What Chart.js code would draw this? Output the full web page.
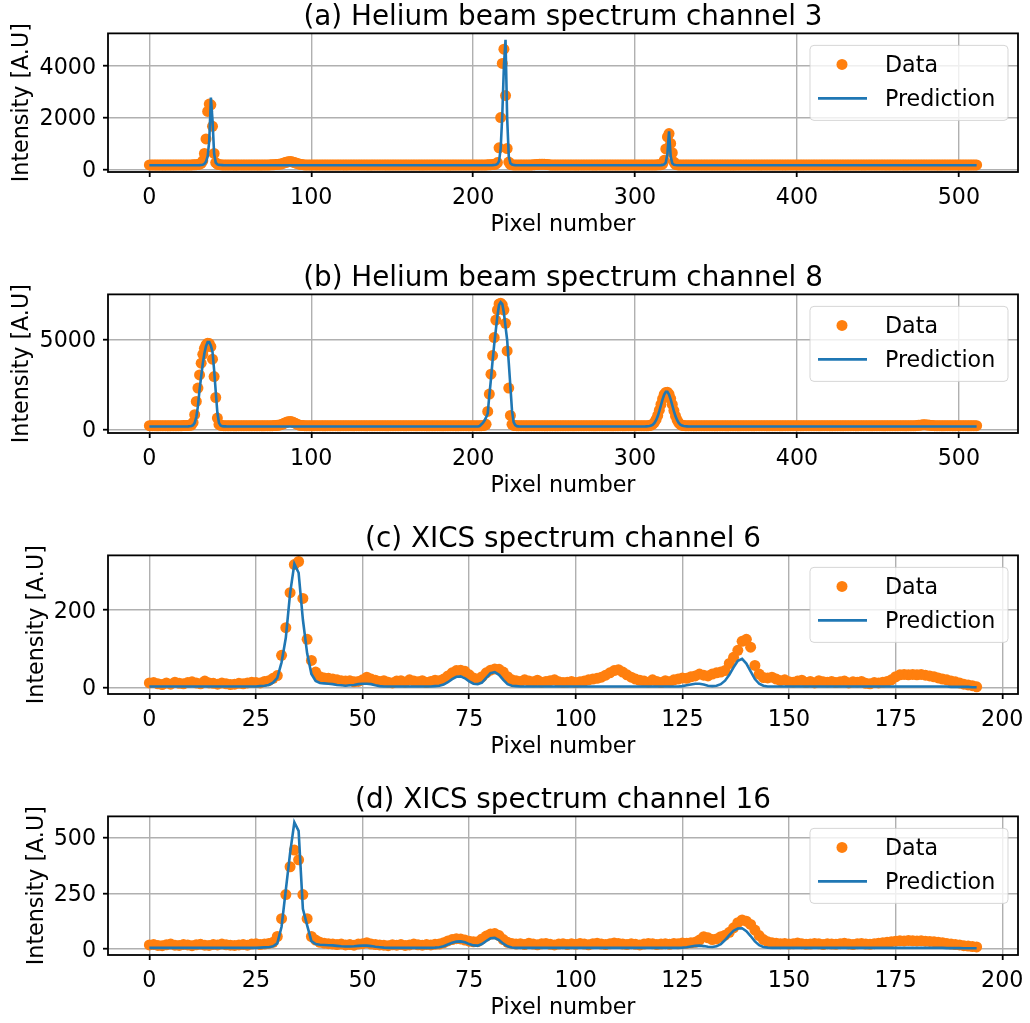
<!DOCTYPE html>
<html>
<head>
<meta charset="utf-8">
<script src="https://cdn.jsdelivr.net/npm/chart.js@4.4.1/dist/chart.umd.min.js"></script>
<style>
html, body { margin: 0; background: #fff; overflow: hidden; }
#wrap { position: relative; width: 1030px; height: 1023px; overflow: hidden; }
#wrap canvas { position: absolute; left: 0; }
</style>
</head>
<body>
<div id="wrap">
  <canvas id="pa" width="1030" height="250" style="top:0px"></canvas>
  <canvas id="pb" width="1030" height="250" style="top:261px"></canvas>
  <canvas id="pc" width="1030" height="250" style="top:522px"></canvas>
  <canvas id="pd" width="1030" height="250" style="top:783px"></canvas>
</div>
<script>
'use strict';
// ============================================================================
// 4 spectres (données vs prédiction) — helium beam ch.3/8, XICS ch.6/16.
// Valeurs relevées à l'oeil sur la figure de référence.
// ============================================================================

// --- (a) Helium beam, canal 3 : 512 pixels
const DATA_A = [
  172,170,168,171,169,167,170,172,168,166,169,171,170,168,167,170,172,169,168,170,171,169,167,168,170,172,171,173,176,180,186,198,
  230,330,613,1176,2234,2520,2490,1659,613,260,200,182,176,172,170,169,171,168,170,172,169,167,170,171,168,169,172,170,168,169,171,170,
  169,170,172,168,167,170,171,169,170,172,171,173,175,178,182,188,196,206,220,240,262,282,296,300,292,276,254,232,212,196,186,178,
  170,169,171,168,170,172,171,169,167,170,172,170,169,168,171,170,169,172,170,168,169,171,170,172,169,167,170,171,169,170,172,170,
  169,168,170,171,169,170,172,168,167,170,171,169,168,170,172,170,169,171,168,167,170,171,169,170,172,171,168,169,170,171,169,170,
  170,169,171,168,170,172,171,169,167,170,172,170,169,168,171,170,169,172,170,168,169,171,170,172,169,167,170,171,169,170,172,170,
  172,170,168,169,171,170,168,170,172,169,167,170,171,169,170,172,171,173,175,178,182,190,200,260,830,2000,4090,4640,2850,805,280,190,
  176,172,170,169,171,170,168,170,172,171,169,170,172,174,178,184,190,196,200,198,194,188,182,176,172,170,169,171,170,168,170,172,
  169,168,170,171,169,170,172,168,167,170,171,169,168,170,172,170,169,171,168,167,170,171,169,170,172,171,168,169,170,171,169,170,
  169,171,170,168,170,172,169,170,171,169,168,170,172,171,169,170,168,169,171,170,172,170,169,168,170,171,173,176,180,200,350,790,
  1250,1380,1000,640,280,190,176,172,170,169,171,170,168,170,172,169,170,171,169,168,170,172,171,169,170,168,169,171,170,172,170,169,
  170,169,171,168,170,172,171,169,167,170,172,170,169,168,171,170,169,172,170,168,169,171,170,172,169,167,170,171,169,170,172,170,
  169,168,170,171,169,170,172,168,167,170,171,169,168,170,172,170,169,171,168,167,170,171,169,170,172,171,168,169,170,171,169,170,
  170,169,171,168,170,172,171,169,167,170,172,170,169,168,171,170,169,172,170,168,169,171,170,172,169,167,170,171,169,170,172,170,
  169,168,170,171,169,170,172,168,167,170,171,169,168,170,172,170,169,171,168,167,170,171,169,170,172,171,168,169,170,171,169,170,
  170,169,171,168,170,172,171,169,167,170,172,170,169,168,171,170,169,172,170,168,169,171,170,172,169,167,170,171,169,170,172,170
];
const PRED_A = [
  158,158,158,158,158,158,158,158,158,158,158,158,158,158,158,158,158,158,158,158,158,158,158,158,158,158,158,158,158,158,160,163,
  168,178,205,300,500,1100,2770,1900,600,260,190,172,165,162,160,158,158,158,158,158,158,158,158,158,158,158,158,158,158,158,158,158,
  158,158,158,158,158,158,158,158,158,158,158,158,158,158,158,158,158,158,158,158,158,158,158,158,158,158,158,158,158,158,158,158,
  158,158,158,158,158,158,158,158,158,158,158,158,158,158,158,158,158,158,158,158,158,158,158,158,158,158,158,158,158,158,158,158,
  158,158,158,158,158,158,158,158,158,158,158,158,158,158,158,158,158,158,158,158,158,158,158,158,158,158,158,158,158,158,158,158,
  158,158,158,158,158,158,158,158,158,158,158,158,158,158,158,158,158,158,158,158,158,158,158,158,158,158,158,158,158,158,158,158,
  158,158,158,158,158,158,158,158,158,158,158,158,158,158,158,158,158,158,158,160,163,168,178,205,320,800,2100,4000,5000,2000,500,230,
  182,168,162,160,158,158,158,158,158,158,158,158,158,158,158,158,158,158,158,158,158,158,158,158,158,158,158,158,158,158,158,158,
  158,158,158,158,158,158,158,158,158,158,158,158,158,158,158,158,158,158,158,158,158,158,158,158,158,158,158,158,158,158,158,158,
  158,158,158,158,158,158,158,158,158,158,158,158,158,158,158,158,158,158,158,158,158,158,158,158,158,158,158,160,164,172,190,260,
  600,1470,500,230,178,165,160,158,158,158,158,158,158,158,158,158,158,158,158,158,158,158,158,158,158,158,158,158,158,158,158,158,
  158,158,158,158,158,158,158,158,158,158,158,158,158,158,158,158,158,158,158,158,158,158,158,158,158,158,158,158,158,158,158,158,
  158,158,158,158,158,158,158,158,158,158,158,158,158,158,158,158,158,158,158,158,158,158,158,158,158,158,158,158,158,158,158,158,
  158,158,158,158,158,158,158,158,158,158,158,158,158,158,158,158,158,158,158,158,158,158,158,158,158,158,158,158,158,158,158,158,
  158,158,158,158,158,158,158,158,158,158,158,158,158,158,158,158,158,158,158,158,158,158,158,158,158,158,158,158,158,158,158,158,
  158,158,158,158,158,158,158,158,158,158,158,158,158,158,158,158,158,158,158,158,158,158,158,158,158,158,158,158,158,158,158,158
];

// --- (b) Helium beam, canal 8 : 512 pixels
const DATA_B = [
  222,224,220,223,221,219,222,224,221,220,223,222,219,221,224,222,220,221,223,222,224,226,228,232,236,242,260,400,830,1560,2300,3030,
  3680,4170,4500,4690,4780,4760,4590,3900,2940,1780,645,290,240,228,224,221,223,220,222,224,221,219,222,223,220,221,224,222,220,223,221,222,
  220,223,221,222,224,220,219,222,223,221,220,222,225,228,232,240,252,270,300,340,385,420,445,455,440,405,360,310,270,245,232,226,
  222,224,220,223,221,219,222,224,221,220,223,222,219,221,224,222,220,221,223,222,220,219,222,224,221,223,220,222,224,221,219,222,
  221,223,220,222,224,221,219,222,223,220,221,224,222,220,223,221,222,224,220,219,222,223,221,220,222,224,221,223,220,222,219,221,
  222,224,220,223,221,219,222,224,221,220,223,222,219,221,224,222,220,221,223,222,220,219,222,224,221,223,220,222,224,221,219,222,
  222,220,223,221,224,222,219,221,223,220,222,224,221,223,226,240,300,1010,1970,3070,4100,5090,6060,6620,6950,6990,6900,6615,5880,4355,2300,790,
  300,238,226,222,220,223,221,224,222,219,221,223,220,222,224,221,223,220,222,224,221,219,222,223,220,221,224,222,220,223,221,222,
  221,223,220,222,224,221,219,222,223,220,221,224,222,220,223,221,222,224,220,219,222,223,221,220,222,224,221,223,220,222,219,221,
  222,224,220,223,221,219,222,224,221,220,223,222,219,221,224,222,220,221,223,222,224,230,260,310,410,570,790,1080,1400,1700,1950,2060,
  2070,1960,1720,1400,1060,760,530,380,290,245,228,223,221,220,222,224,221,219,222,223,220,221,224,222,220,223,221,222,224,220,219,222,
  222,224,220,223,221,219,222,224,221,220,223,222,219,221,224,222,220,221,223,222,220,219,222,224,221,223,220,222,224,221,219,222,
  221,223,220,222,224,221,219,222,223,220,221,224,222,220,223,221,222,224,220,219,222,223,221,220,222,224,221,223,220,222,219,221,
  222,224,220,223,221,219,222,224,221,220,223,222,219,221,224,222,220,221,223,222,220,219,222,224,221,223,220,222,224,221,219,222,
  221,223,220,222,224,221,219,222,223,220,221,224,222,220,223,221,222,224,220,219,222,223,221,220,222,224,230,240,252,262,268,270,
  266,258,246,234,226,222,224,220,223,221,219,222,224,221,220,223,222,219,221,224,222,220,221,223,222,220,219,222,224,221,223,220
];
const PRED_B = [
  180,180,180,180,180,180,180,180,180,180,180,180,180,180,180,180,180,180,180,180,180,180,180,180,183,188,205,250,380,700,1300,2200,
  2940,3650,4230,4620,4840,4840,4650,4300,3300,2100,950,380,230,195,185,182,180,180,180,180,180,180,180,180,180,180,180,180,180,180,180,180,
  180,180,180,180,180,180,180,180,180,180,180,180,180,180,180,180,180,180,180,180,180,180,180,180,180,180,180,180,180,180,180,180,
  180,180,180,180,180,180,180,180,180,180,180,180,180,180,180,180,180,180,180,180,180,180,180,180,180,180,180,180,180,180,180,180,
  180,180,180,180,180,180,180,180,180,180,180,180,180,180,180,180,180,180,180,180,180,180,180,180,180,180,180,180,180,180,180,180,
  180,180,180,180,180,180,180,180,180,180,180,180,180,180,180,180,180,180,180,180,180,180,180,180,180,180,180,180,180,180,180,180,
  180,180,180,180,180,180,180,180,180,180,180,180,200,290,380,500,680,900,1900,2800,3800,4700,5500,6300,6900,7050,6950,6450,5700,4960,3700,2400,
  1050,420,250,195,183,180,180,180,180,180,180,180,180,180,180,180,180,180,180,180,180,180,180,180,180,180,180,180,180,180,180,180,
  180,180,180,180,180,180,180,180,180,180,180,180,180,180,180,180,180,180,180,180,180,180,180,180,180,180,180,180,180,180,180,180,
  180,180,180,180,180,180,180,180,180,180,180,180,180,180,180,180,180,180,180,185,190,201,228,281,373,524,741,1025,1351,1676,1940,2090,
  2090,1940,1676,1351,1025,741,524,373,281,228,201,190,185,180,180,180,180,180,180,180,180,180,180,180,180,180,180,180,180,180,180,180,
  180,180,180,180,180,180,180,180,180,180,180,180,180,180,180,180,180,180,180,180,180,180,180,180,180,180,180,180,180,180,180,180,
  180,180,180,180,180,180,180,180,180,180,180,180,180,180,180,180,180,180,180,180,180,180,180,180,180,180,180,180,180,180,180,180,
  180,180,180,180,180,180,180,180,180,180,180,180,180,180,180,180,180,180,180,180,180,180,180,180,180,180,180,180,180,180,180,180,
  180,180,180,180,180,180,180,180,180,180,180,180,180,180,180,180,180,180,180,180,180,180,180,180,180,180,180,180,180,180,180,180,
  180,180,180,180,180,180,180,180,180,180,180,180,180,180,180,180,180,180,180,180,180,180,180,180,180,180,180,180,180,180,180,180
];

// --- (c) XICS, canal 6 : 195 pixels
const DATA_C = [
  12,13,10,8,12,9,14,11,10,13,15,12,10,17,12,11,9,12,10,8,
  9,11,10,12,14,13,12,16,18,24,31,83,154,244,316,324,229,124,70,40,
  28,25,24,22,20,18,17,18,15,16,20,27,22,19,16,18,14,12,17,18,
  14,20,17,15,18,13,16,19,18,22,30,38,44,45,42,33,25,22,28,38,
  45,48,47,40,28,20,18,16,20,17,15,19,14,16,18,20,15,13,14,16,
  13,15,17,20,22,24,27,32,38,44,46,40,33,27,22,19,17,14,20,16,
  13,18,15,20,22,25,24,28,30,35,32,30,35,38,40,44,62,78,96,119,
  124,104,57,35,26,25,27,22,18,20,15,14,17,19,13,16,12,18,15,14,
  16,13,15,17,12,15,14,16,11,10,13,12,14,16,20,28,33,34,33,34,
  33,34,32,30,28,25,22,20,17,15,12,9,7,5,2
];
const PRED_C = [
  3,3,3,3,3,3,3,3,3,3,3,3,3,3,3,3,3,3,3,3,
  3,3,3,3,3,3,4,5,7,13,25,65,128,242,318,295,175,88,35,17,
  12,11,10,9,7,6,5,6,7,9,10,10,9,6,4,3,3,3,3,3,
  3,3,3,3,3,3,3,4,5,8,14,22,28,29,24,16,10,9,13,25,
  37,40,33,20,9,5,4,3,3,3,3,3,3,3,3,3,3,3,3,3,
  3,3,3,3,3,3,3,3,3,3,3,3,3,3,3,3,3,3,3,3,
  3,3,3,3,3,4,6,8,10,10,8,5,4,5,9,18,33,52,69,74,
  62,42,22,10,5,3,3,3,3,3,3,3,3,3,3,3,3,3,3,3,
  3,3,3,3,3,3,3,3,3,3,3,3,3,3,3,3,3,3,3,3,
  3,3,3,3,3,3,3,3,2,2,2,2,2,1,1
];

// --- (d) XICS, canal 16 : 195 pixels
const DATA_D = [
  18,20,16,15,19,22,17,16,20,18,15,19,21,17,16,20,18,22,19,17,
  16,18,20,17,22,24,20,22,25,30,56,136,244,369,444,400,244,136,56,40,
  30,26,24,22,20,22,18,20,17,22,24,28,22,20,18,17,15,19,17,20,
  16,18,22,19,17,20,18,21,22,28,36,42,46,45,40,35,32,33,45,58,
  67,69,60,42,30,25,22,24,20,26,22,19,23,25,21,18,22,24,20,23,
  21,25,22,19,24,26,22,20,23,27,25,22,20,24,21,18,22,25,23,20,
  22,24,21,25,23,27,26,28,30,40,55,50,42,45,55,62,75,95,118,130,
  125,110,85,60,42,32,28,26,24,25,22,23,27,24,21,22,25,23,20,24,
  22,21,24,26,22,20,23,25,22,21,24,26,28,30,33,35,37,36,38,37,
  36,37,35,34,33,30,28,25,22,20,18,15,13,11,9
];
const PRED_D = [
  5,5,5,5,5,5,5,5,5,5,5,5,5,5,5,5,5,5,5,5,
  5,5,5,5,5,5,6,7,8,12,25,100,265,430,568,530,180,106,35,22,
  19,18,17,16,14,12,11,11,12,14,15,15,13,10,8,6,5,5,5,5,
  5,5,5,5,5,5,5,6,8,12,20,28,33,34,30,22,16,15,22,36,
  48,50,40,24,12,7,5,5,5,5,5,5,5,5,5,5,5,5,5,5,
  5,5,5,5,5,5,5,5,5,5,5,5,5,5,5,5,5,5,5,5,
  5,5,5,5,5,6,8,11,14,15,13,10,9,12,22,40,62,82,92,93,
  80,58,34,17,9,6,5,5,5,5,5,5,5,5,5,5,5,5,5,5,
  5,5,5,5,5,5,5,5,5,5,5,5,5,5,5,5,5,5,5,5,
  5,5,5,5,5,5,5,4,4,4,4,3,3,3,3
];

// axes : graduations et bornes
const TITLES = ['(a) Helium beam spectrum channel 3', '(b) Helium beam spectrum channel 8', '(c) XICS spectrum channel 6', '(d) XICS spectrum channel 16'];
const XTICKS_HE = [0, 100, 200, 300, 400, 500];
const XTICKS_XICS = [0, 25, 50, 75, 100, 125, 150, 175, 200];
const XLIM_HE = [-25.55, 536.55], XLIM_XICS = [-9.7, 203.7];
const YTICKS_A = [0, 2000, 4000], YTICKS_B = [0, 5000], YTICKS_C = [0, 200], YTICKS_D = [0, 250, 500];
const YLIM_A = [-103, 5250], YLIM_B = [-182, 7480], YLIM_C = [-16.3, 339.7], YLIM_D = [-27, 595];
const LEGEND = ['Data', 'Prediction'];

const FONT = 'DejaVu Sans', ORANGE = '#ff7f0e', BLUE = '#1f77b4', GRID = '#b0b0b0';
const pix = n => Array.from({ length: n }, (_, i) => i);

function rrect(ctx, x, y, w, h, r) {
  ctx.beginPath();
  ctx.moveTo(x + r, y); ctx.lineTo(x + w - r, y); ctx.arcTo(x + w, y, x + w, y + r, r);
  ctx.lineTo(x + w, y + h - r); ctx.arcTo(x + w, y + h, x + w - r, y + h, r);
  ctx.lineTo(x + r, y + h); ctx.arcTo(x, y + h, x, y + h - r, r);
  ctx.lineTo(x, y + r); ctx.arcTo(x, y, x + r, y, r); ctx.closePath();
}

// cadre noir (4 côtés) + légende dans le coin haut droit
const frameAndLegend = {
  id: 'frameAndLegend',
  afterDatasetsDraw(c) {
    const a = c.chartArea, ctx = c.ctx;
    ctx.save();
    ctx.strokeStyle = '#000'; ctx.lineWidth = 1.8;
    ctx.strokeRect(a.left, a.top, a.right - a.left, a.bottom - a.top);
    const w = 198, h = 75, bx = a.right - 10 - w, by = a.top + 12;
    rrect(ctx, bx, by, w, h, 4);
    ctx.fillStyle = 'rgba(255,255,255,0.8)'; ctx.fill();
    ctx.strokeStyle = 'rgba(204,204,204,0.8)'; ctx.lineWidth = 1; ctx.stroke();
    const r1 = by + 19, r2 = by + 53;
    ctx.fillStyle = ORANGE; ctx.beginPath(); ctx.arc(bx + 32, r1, 5.5, 0, Math.PI * 2); ctx.fill();
    ctx.strokeStyle = BLUE; ctx.lineWidth = 2.6; ctx.beginPath(); ctx.moveTo(bx + 8, r2); ctx.lineTo(bx + 57, r2); ctx.stroke();
    ctx.fillStyle = '#000'; ctx.font = '22.2px "' + FONT + '"'; ctx.textBaseline = 'alphabetic'; ctx.textAlign = 'left';
    ctx.fillText(LEGEND[0], bx + 75, r1 + 8);
    ctx.fillText(LEGEND[1], bx + 75, r2 + 8);
    ctx.restore();
  }
};

function plot(id, title, data, pred, xlim, xticks, ylim, yticks, ylabPad) {
  const tickFont = { family: FONT, size: 22.2 };
  return new Chart(document.getElementById(id), {
    type: 'line',
    data: {
      labels: pix(data.length),
      datasets: [
        { label: LEGEND[0], data, showLine: false, pointRadius: 5.5, pointHoverRadius: 5.5, pointBackgroundColor: ORANGE, pointBorderWidth: 0, order: 2 },
        { label: LEGEND[1], data: pred, borderColor: BLUE, borderWidth: 2.6, pointRadius: 0, tension: 0, order: 1 },
      ],
    },
    options: {
      responsive: false, animation: false, devicePixelRatio: 1,
      layout: { padding: { top: 0, right: 12, bottom: 0, left: 0 } },
      plugins: {
        legend: { display: false }, tooltip: { enabled: false },
        title: { display: true, text: title, fullSize: false, color: '#000', font: { family: FONT, size: 27.8, weight: 'normal', lineHeight: 1.1 }, padding: { top: 2, bottom: 0.8 } },
      },
      scales: {
        x: {
          type: 'linear', min: xlim[0], max: xlim[1],
          afterBuildTicks: s => { s.ticks = xticks.map(v => ({ value: v })); },
          // hauteur fixe, pas de marge auto pour le dernier libellé
          afterFit: s => { s.height = 78; s.paddingLeft = 0; s.paddingRight = 0; },
          border: { display: false },
          grid: { color: GRID, lineWidth: 1.4, tickColor: '#000', tickWidth: 1.8, tickLength: 5 },
          ticks: { font: tickFont, color: '#000', padding: 8, maxRotation: 0, autoSkip: false, callback: v => String(v) },
          title: { display: true, text: 'Pixel number', color: '#000', font: tickFont, padding: { top: 0, bottom: 11 } },
        },
        y: {
          min: ylim[0], max: ylim[1],
          afterBuildTicks: s => { s.ticks = yticks.map(v => ({ value: v })); },
          afterFit: s => { s.width = 108; s.paddingTop = 0; s.paddingBottom = 0; },
          border: { display: false },
          grid: { color: GRID, lineWidth: 1.4, tickColor: '#000', tickWidth: 1.8, tickLength: 5 },
          ticks: { font: tickFont, color: '#000', padding: 7, labelOffset: 2, autoSkip: false, callback: v => String(v) },
          title: { display: true, text: 'Intensity [A.U]', color: '#000', font: tickFont, padding: { top: ylabPad, bottom: 0 } },
        },
      },
    },
    plugins: [frameAndLegend],
  });
}

plot('pa', TITLES[0], DATA_A, PRED_A, XLIM_HE, XTICKS_HE, YLIM_A, YTICKS_A, 9);
plot('pb', TITLES[1], DATA_B, PRED_B, XLIM_HE, XTICKS_HE, YLIM_B, YTICKS_B, 9);
plot('pc', TITLES[2], DATA_C, PRED_C, XLIM_XICS, XTICKS_XICS, YLIM_C, YTICKS_C, 24);
plot('pd', TITLES[3], DATA_D, PRED_D, XLIM_XICS, XTICKS_XICS, YLIM_D, YTICKS_D, 24);
</script>
</body>
</html>
